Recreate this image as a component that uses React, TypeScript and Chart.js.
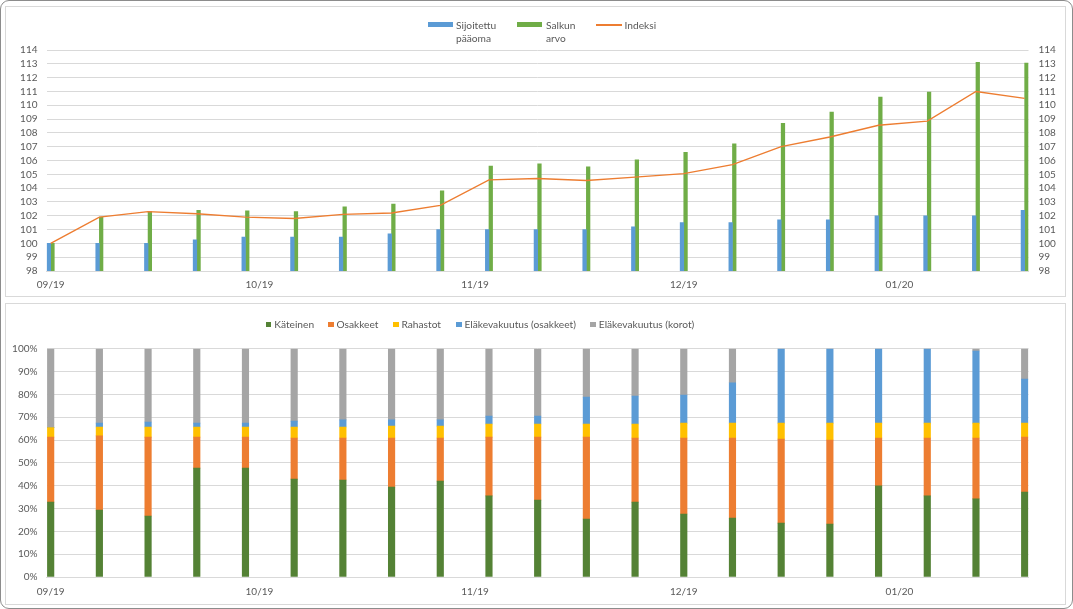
import { useEffect, useRef } from "react";
import { Chart, registerables } from "chart.js";

Chart.register(...registerables);

// weekly snapshots
const weekDates = [
  "2019-09-01", "2019-09-08", "2019-09-15", "2019-09-22", "2019-09-29", "2019-10-06", "2019-10-13",
  "2019-10-20", "2019-10-27", "2019-11-03", "2019-11-10", "2019-11-17", "2019-11-24", "2019-12-01",
  "2019-12-08", "2019-12-15", "2019-12-22", "2019-12-29", "2020-01-05", "2020-01-12", "2020-01-19"
];
const monthStarts = ["2019-09-01", "2019-10-01", "2019-11-01", "2019-12-01", "2020-01-01"];
const monthLabels = ["09/19", "10/19", "11/19", "12/19", "01/20"];

// top chart
const sijoitettu = [100, 100, 100, 100.25, 100.45, 100.45, 100.45, 100.7, 101, 101, 101, 101, 101.2, 101.5, 101.5, 101.7, 101.7, 102, 102, 102, 102.4];
const salkunArvo = [100, 101.9, 102.3, 102.4, 102.35, 102.3, 102.65, 102.85, 103.8, 105.6, 105.75, 105.55, 106.05, 106.6, 107.2, 108.7, 109.5, 110.6, 110.95, 113.1, 113.05];
const indeksi = [100, 101.9, 102.3, 102.15, 101.9, 101.8, 102.1, 102.2, 102.75, 104.6, 104.7, 104.55, 104.8, 105.05, 105.7, 107.0, 107.7, 108.55, 108.85, 111.0, 110.5];

// bottom chart (%)
const kateinen = [32.8, 29.3, 26.7, 47.7, 47.7, 42.9, 42.5, 39.4, 42.0, 35.5, 33.7, 25.4, 32.8, 27.6, 25.8, 23.6, 23.2, 39.9, 35.5, 34.2, 37.2];
const osakkeet = [28.5, 32.5, 34.6, 13.6, 13.6, 18.0, 18.4, 21.5, 18.9, 25.8, 27.6, 35.9, 28.1, 33.3, 35.1, 36.8, 36.8, 21.0, 25.4, 26.7, 24.1];
const rahastot = [4.1, 3.9, 4.4, 4.4, 4.4, 4.8, 4.8, 5.2, 5.2, 5.7, 5.7, 5.7, 6.1, 6.5, 6.5, 7.0, 7.4, 6.5, 6.5, 6.5, 6.1];
const elakeOsakkeet = [0, 1.7, 2.2, 1.7, 1.7, 2.6, 3.1, 2.7, 2.7, 3.5, 3.5, 11.8, 12.3, 12.3, 17.6, 32.6, 32.6, 32.6, 32.6, 31.6, 19.3];
const elakeKorot = [34.6, 32.6, 32.1, 32.6, 32.6, 31.7, 31.2, 31.2, 31.2, 29.5, 29.5, 21.2, 20.7, 20.3, 15.0, 0, 0, 0, 0, 1.0, 13.3];

const FONT = "Lato, 'Liberation Sans', Arial, sans-serif";
const TEXT = "#595959";
const GRID = "#D9D9D9";
const BLUE = "#5B9BD5";
const GREEN = "#70AD47";
const DARK_GREEN = "#548235";
const ORANGE = "#ED7D31";
const YELLOW = "#FFC000";
const GRAY = "#A5A5A5";

const DAY = 86400000;
const day0 = Date.parse(weekDates[0]);
const days = weekDates.map((d) => (Date.parse(d) - day0) / DAY);
const monthDays = monthStarts.map((d) => (Date.parse(d) - day0) / DAY);
const xMin = days[0] - 0.6;
const xMax = days[days.length - 1] + 0.55;

const pts = (vals: number[]) => vals.map((y, i) => ({ x: days[i], y }));

function monthAxis(height: number, padding: number, stacked: boolean) {
  return {
    type: "linear",
    min: xMin,
    max: xMax,
    offset: false,
    bounds: "data",
    stacked,
    grid: { display: false, drawTicks: false, offset: false },
    border: { display: true, color: GRID },
    afterBuildTicks: (s: any) => {
      s.ticks = monthDays.map((v) => ({ value: v }));
    },
    afterFit: (s: any) => {
      s.height = height;
    },
    ticks: {
      autoSkip: false,
      maxRotation: 0,
      padding,
      color: TEXT,
      font: { family: FONT, size: 10 },
      callback: (v: number) => monthLabels[monthDays.indexOf(v)] ?? ""
    }
  };
}

function ChartCanvas({ config, top, height }: { config: any; top: number; height: number }) {
  const canvasRef = useRef<HTMLCanvasElement | null>(null);
  useEffect(() => {
    if (!canvasRef.current) return;
    const chart = new Chart(canvasRef.current, config);
    return () => chart.destroy();
  }, [config]);
  return (
    <canvas
      ref={canvasRef}
      width={1073}
      height={height}
      style={{ position: "absolute", left: 0, top, width: 1073, height, display: "block" }}
    />
  );
}

const valueTicks = (step: number, padding: number, suffix = "") => ({
  stepSize: step,
  autoSkip: false,
  padding,
  color: TEXT,
  font: { family: FONT, size: 10 },
  callback: (v: number) => `${v}${suffix}`
});

const topConfig = {
  type: "bar",
  data: {
    datasets: [
      {
        type: "line",
        label: "Indeksi",
        data: pts(indeksi),
        borderColor: ORANGE,
        borderWidth: 1.4,
        pointRadius: 0,
        tension: 0,
        order: 0
      },
      { label: "Sijoitettu pääoma", data: pts(sijoitettu), backgroundColor: BLUE, barThickness: 3.6, order: 1 },
      { label: "Salkun arvo", data: pts(salkunArvo), backgroundColor: GREEN, barThickness: 3.6, order: 1 }
    ]
  },
  options: {
    animation: false,
    responsive: false,
    maintainAspectRatio: false,
    layout: { padding: { top: 50, left: 0, right: 0, bottom: 0 } },
    plugins: { legend: { display: false }, tooltip: { enabled: false } },
    scales: {
      x: monthAxis(29, 8, false),
      y: {
        position: "left",
        min: 98,
        max: 114,
        grid: { color: GRID, drawTicks: false },
        border: { display: false },
        ticks: valueTicks(1, 9),
        afterFit: (s: any) => {
          s.width = 46.5;
        }
      },
      y1: {
        position: "right",
        min: 98,
        max: 114,
        grid: { display: false, drawTicks: false },
        border: { display: false },
        ticks: valueTicks(1, 10),
        afterFit: (s: any) => {
          s.width = 44.5;
        }
      }
    }
  }
};

const bottomSeries = [
  { label: "Käteinen", data: kateinen, color: DARK_GREEN },
  { label: "Osakkeet", data: osakkeet, color: ORANGE },
  { label: "Rahastot", data: rahastot, color: YELLOW },
  { label: "Eläkevakuutus (osakkeet)", data: elakeOsakkeet, color: BLUE },
  { label: "Eläkevakuutus (korot)", data: elakeKorot, color: GRAY }
];

const bottomConfig = {
  type: "bar",
  data: {
    datasets: bottomSeries.map((s) => ({
      label: s.label,
      data: pts(s.data),
      backgroundColor: s.color,
      barThickness: 6.5,
      borderWidth: 0
    }))
  },
  options: {
    animation: false,
    responsive: false,
    maintainAspectRatio: false,
    layout: { padding: { top: 48.7, left: 0, right: 44.5, bottom: 0 } },
    plugins: { legend: { display: false }, tooltip: { enabled: false } },
    scales: {
      x: monthAxis(32, 9, true),
      y: {
        stacked: true,
        min: 0,
        max: 100,
        grid: { color: GRID, drawTicks: false },
        border: { display: false },
        ticks: valueTicks(10, 9, "%"),
        afterFit: (s: any) => {
          s.width = 46.5;
        }
      }
    }
  }
};

const textStyle = { position: "absolute" as const, color: TEXT, fontSize: 10.2, lineHeight: "12.7px", whiteSpace: "nowrap" as const };

function TopLegend() {
  return (
    <>
      <div style={{ position: "absolute", left: 428, top: 22.3, width: 24.5, height: 5, background: BLUE }} />
      <div style={{ ...textStyle, left: 456, top: 18.8 }}>Sijoitettu<br />pääoma</div>
      <div style={{ position: "absolute", left: 517, top: 22.3, width: 25, height: 5, background: GREEN }} />
      <div style={{ ...textStyle, left: 546, top: 18.8 }}>Salkun<br />arvo</div>
      <div style={{ position: "absolute", left: 596, top: 24.2, width: 25.5, height: 1.4, background: ORANGE }} />
      <div style={{ ...textStyle, left: 624.5, top: 18.8 }}>Indeksi</div>
    </>
  );
}

const bottomLegendX = [265.7, 328, 393, 456, 590.3];

function BottomLegend() {
  return (
    <>
      {bottomSeries.map((s, i) => (
        <div key={s.label}>
          <div style={{ position: "absolute", left: bottomLegendX[i], top: 321.6, width: 5.5, height: 5.5, background: s.color }} />
          <div style={{ ...textStyle, left: bottomLegendX[i] + 8.5, top: 318 }}>{s.label}</div>
        </div>
      ))}
    </>
  );
}

export default function App() {
  return (
    <div style={{ position: "fixed", left: 0, top: 0, width: 1073, height: 609, background: "#fff", fontFamily: FONT, overflow: "hidden" }}>
      <div style={{ position: "absolute", left: 0, top: 0, width: 1073, height: 609, border: "1.5px solid #8C8C8C", borderRadius: 9, boxSizing: "border-box" }} />
      <div style={{ position: "absolute", left: 5, top: 6, width: 1061, height: 290.5, border: `1px solid ${GRID}`, boxSizing: "border-box" }} />
      <div style={{ position: "absolute", left: 5, top: 303, width: 1061, height: 301.5, border: `1px solid ${GRID}`, boxSizing: "border-box" }} />
      <ChartCanvas config={topConfig} top={0} height={300} />
      <ChartCanvas config={bottomConfig} top={300} height={309} />
      <TopLegend />
      <BottomLegend />
    </div>
  );
}
